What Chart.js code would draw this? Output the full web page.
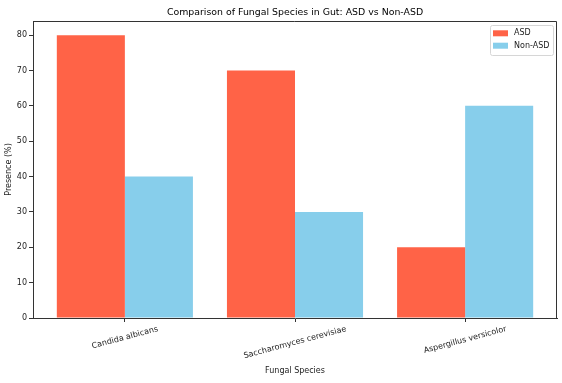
<!DOCTYPE html>
<html>
<head>
<meta charset="utf-8">
<script src="https://cdn.jsdelivr.net/npm/chart.js@4"></script>
<style>
  html, body { margin: 0; padding: 0; background: #fff; }
  #wrap { width: 562px; height: 383px; }
</style>
</head>
<body>
<div id="wrap"><canvas id="c" width="562" height="383"></canvas></div>
<script>
const categories = ['Candida albicans', 'Saccharomyces cerevisiae', 'Aspergillus versicolor'];
const asdValues = [80, 70, 20];
const nonAsdValues = [40, 30, 60];
const seriesLabels = ['ASD', 'Non-ASD'];
const yTicks = [0, 10, 20, 30, 40, 50, 60, 70, 80];
const chartTitle = 'Comparison of Fungal Species in Gut: ASD vs Non-ASD';
const xTitle = 'Fungal Species';
const yTitle = 'Presence (%)';

const FONT = 'DejaVu Sans';
const colors = ['#FF6347', '#87CEEB'];

const overlay = {
  id: 'overlay',
  afterDraw(chart) {
    const ctx = chart.ctx;
    const a = chart.chartArea;
    const xs = chart.scales.x;
    ctx.save();
    // top & right spines
    ctx.strokeStyle = '#333';
    ctx.lineWidth = 1;
    ctx.beginPath();
    ctx.moveTo(a.left, a.top + 0.5);
    ctx.lineTo(a.right - 0.5, a.top + 0.5);
    ctx.lineTo(a.right - 0.5, a.bottom);
    ctx.stroke();
    // title
    ctx.fillStyle = '#000';
    ctx.font = '9.4px "' + FONT + '"';
    ctx.textAlign = 'center';
    ctx.textBaseline = 'middle';
    ctx.fillText(chartTitle, (a.left + a.right) / 2, 12.5);
    // rotated x tick labels, centred on ticks
    ctx.font = '8px "' + FONT + '"';
    ctx.fillStyle = '#222';
    const ang = 15 * Math.PI / 180;
    categories.forEach((lab, i) => {
      const px = xs.getPixelForValue(i);
      const w = ctx.measureText(lab).width;
      const h = 8;
      const bh = w * Math.sin(ang) + h * Math.cos(ang);
      const cy = a.bottom + 7 + bh / 2;
      ctx.save();
      ctx.translate(px, cy);
      ctx.rotate(-ang);
      ctx.textAlign = 'center';
      ctx.textBaseline = 'middle';
      ctx.fillText(lab, 0, 0);
      ctx.restore();
    });
    // legend
    const lx = 490.5, ly = 25.5, lw = 63, lh = 30, r = 2;
    ctx.fillStyle = 'rgba(255,255,255,0.8)';
    ctx.strokeStyle = '#d6d6d6';
    ctx.beginPath();
    ctx.moveTo(lx + r, ly);
    ctx.lineTo(lx + lw - r, ly);
    ctx.quadraticCurveTo(lx + lw, ly, lx + lw, ly + r);
    ctx.lineTo(lx + lw, ly + lh - r);
    ctx.quadraticCurveTo(lx + lw, ly + lh, lx + lw - r, ly + lh);
    ctx.lineTo(lx + r, ly + lh);
    ctx.quadraticCurveTo(lx, ly + lh, lx, ly + lh - r);
    ctx.lineTo(lx, ly + r);
    ctx.quadraticCurveTo(lx, ly, lx + r, ly);
    ctx.closePath();
    ctx.fill();
    ctx.stroke();
    chart.data.datasets.forEach((ds, i) => {
      const cy = 33.3 + i * 12.4;
      ctx.fillStyle = ds.backgroundColor;
      ctx.fillRect(493, cy - 3, 15, 6);
      ctx.fillStyle = '#222';
      ctx.font = '8px "' + FONT + '"';
      ctx.textAlign = 'left';
      ctx.textBaseline = 'middle';
      ctx.fillText(ds.label, 514, cy);
    });
    ctx.restore();
  }
};

new Chart(document.getElementById('c'), {
  type: 'bar',
  data: {
    datasets: [
      { label: seriesLabels[0], data: asdValues.map((v, i) => ({ x: i, y: v })), backgroundColor: colors[0], borderWidth: 0 },
      { label: seriesLabels[1], data: nonAsdValues.map((v, i) => ({ x: i, y: v })), backgroundColor: colors[1], borderWidth: 0 }
    ]
  },
  options: {
    responsive: false,
    animation: false,
    devicePixelRatio: 1,
    categoryPercentage: 0.8,
    barPercentage: 1.0,
    layout: { padding: { top: 21, right: 5, left: 0, bottom: 0 } },
    plugins: { legend: { display: false }, title: { display: false }, tooltip: { enabled: false } },
    scales: {
      x: {
        type: 'linear',
        min: -0.54,
        max: 2.54,
        offset: false,
        afterBuildTicks: s => { s.ticks = categories.map((_, i) => ({ value: i })); },
        afterFit: s => { s.height = 65; },
        ticks: { display: false },
        grid: { display: true, offset: false, drawOnChartArea: false, drawTicks: true, tickLength: 4, color: '#333', lineWidth: 1 },
        border: { display: true, color: '#333', width: 1 },
        title: { display: true, text: xTitle, font: { family: FONT, size: 8 }, color: '#222', padding: { top: 0, bottom: 7 } }
      },
      y: {
        type: 'linear',
        min: 0,
        max: 84,
        afterBuildTicks: s => { s.ticks = yTicks.map(v => ({ value: v })); },
        afterFit: s => { s.width = 33; },
        ticks: { font: { family: FONT, size: 8 }, color: '#222', padding: 2 },
        grid: { display: true, drawOnChartArea: false, drawTicks: true, tickLength: 4, color: '#333', lineWidth: 1 },
        border: { display: true, color: '#333', width: 1 },
        title: { display: true, text: yTitle, font: { family: FONT, size: 8 }, color: '#222', padding: { top: 4, bottom: 0 } }
      }
    }
  },
  plugins: [overlay]
});
</script>
</body>
</html>
